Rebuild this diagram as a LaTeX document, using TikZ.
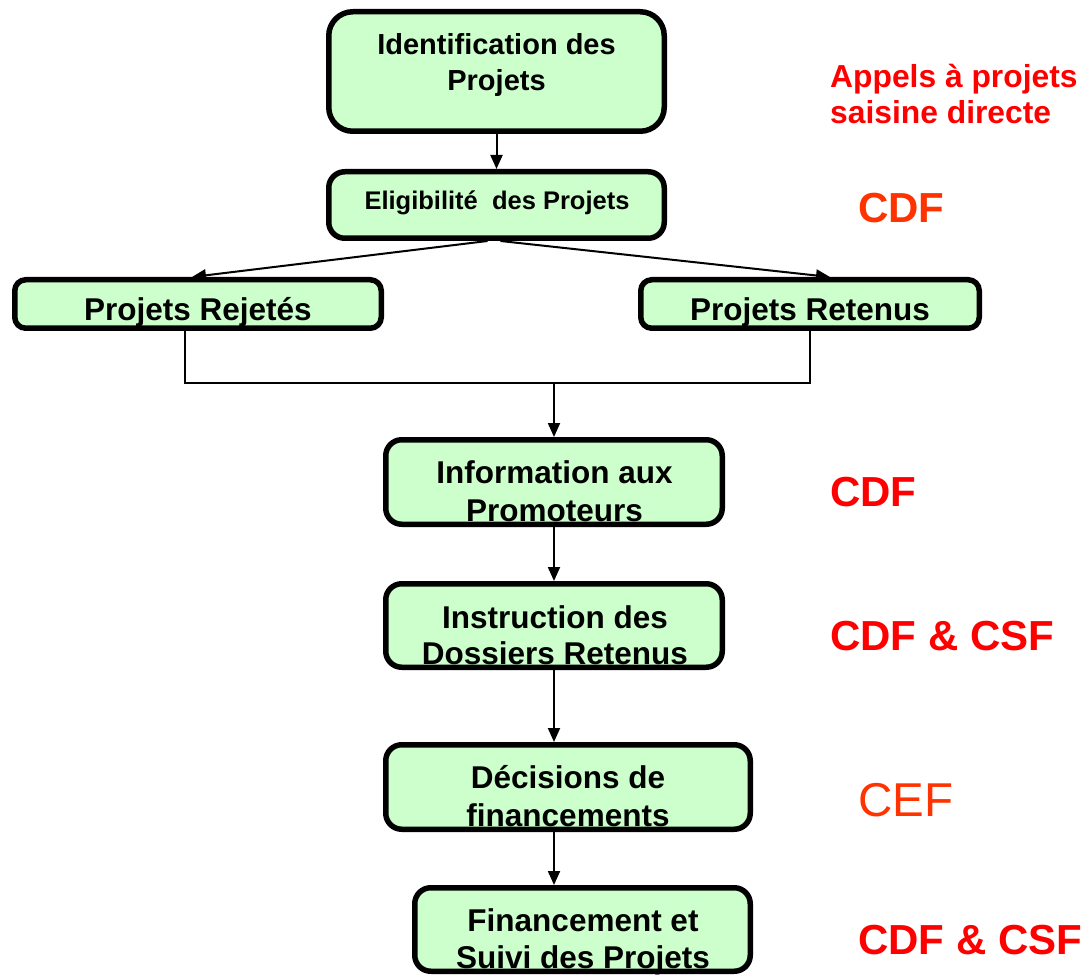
\documentclass[tikz,border=0pt]{standalone}
\usepackage{fontspec}
\setmainfont{Liberation Sans}
\usetikzlibrary{arrows.meta,calc}
\definecolor{boxgreen}{HTML}{CCFFCC}
\definecolor{lblred}{HTML}{FF0000}
\definecolor{lblorange}{HTML}{FF3300}
\tikzset{
  flowbox/.style={draw=black, line width=5.5pt, fill=boxgreen, rounded corners=16pt, inner sep=0pt},
  bigbox/.style={flowbox, rounded corners=24pt},
  boxtext/.style={align=center, inner sep=0pt, font=\bfseries\fontsize{31.5}{37}\selectfont},
  flowarrow/.style={draw=black, line width=2pt, -{Triangle[length=14pt,width=12pt]}},
  joinline/.style={draw=black, line width=1.3pt},
  redlbl/.style={anchor=west, inner sep=0pt, text=lblred, font=\bfseries\fontsize{42}{48}\selectfont},
}
\begin{document}
\begin{tikzpicture}[x=1pt,y=-1pt]
\useasboundingbox (0,0) rectangle (1090,976);
\clip (0,0) rectangle (1090,976);
\fill[white] (0,0) rectangle (1090,976);

% boxes
\node[bigbox, minimum width=335.5pt, minimum height=119.5pt] (ident) at (496.5,71.5) {};
\node[flowbox, minimum width=335.5pt, minimum height=66.5pt] (elig) at (496.5,205) {};
\node[flowbox, minimum width=366.5pt, minimum height=48.5pt, rounded corners=11pt] (rej) at (198,304) {};
\node[flowbox, minimum width=338.5pt, minimum height=48.5pt, rounded corners=11pt] (ret) at (810,304) {};
\node[flowbox, minimum width=336.5pt, minimum height=84.5pt] (info) at (554,482) {};
\node[flowbox, minimum width=336.5pt, minimum height=83.5pt] (instr) at (554,625.5) {};
\node[flowbox, minimum width=364.5pt, minimum height=84.5pt] (dec) at (568,787) {};
\node[flowbox, minimum width=335.5pt, minimum height=83.5pt] (fin) at (582.5,929.5) {};

% box texts
\node[boxtext, font=\bfseries\fontsize{29}{36}\selectfont] (identT) at (496.5,65) {Identification des\\Projets};
\node[boxtext, font=\bfseries\fontsize{25.5}{30}\selectfont] (eligT) at (497,202.5) {Eligibilité\ \ des Projets};
\node[boxtext] (rejT) at (198,312) {Projets Rejetés};
\node[boxtext] (retT) at (810,312) {Projets Retenus};
\node[boxtext, font=\bfseries\fontsize{31.5}{38}\selectfont] (infoT) at (554.5,491.5) {Information aux\\Promoteurs};
\node[boxtext, font=\bfseries\fontsize{31.5}{36}\selectfont] (instrT) at (555,635) {Instruction des\\Dossiers Retenus};
\node[boxtext, font=\bfseries\fontsize{31.5}{38}\selectfont] (decT) at (568,796) {Décisions de\\financements};
\node[boxtext, font=\bfseries\fontsize{31.5}{37}\selectfont] (finT) at (583,942) {Financement et\\Suivi des Projets};

% red labels
\node[anchor=west, inner sep=0pt, align=left, text=lblred, font=\bfseries\fontsize{31.8}{36}\selectfont] (appels) at (830,94) {Appels à projets\\saisine directe};
\node[redlbl, text=lblorange] (cdf1) at (858,208) {CDF};
\node[redlbl] (cdf2) at (830,492) {CDF};
\node[redlbl] (cdfcsf1) at (830,636) {CDF \& CSF};
\node[anchor=west, inner sep=0pt, text=lblorange, font=\fontsize{47.5}{54}\selectfont] (cef) at (858,800) {CEF};
\node[redlbl] (cdfcsf2) at (858,940) {CDF \& CSF};

% connectors
\coordinate (eligL) at ($(elig.south)+(-9,0)$);
\coordinate (eligR) at ($(elig.south)+(4,0)$);
\coordinate (rejIn) at ($(rej.north west)+(180,0)$);
\coordinate (retIn) at ($(ret.north west)+(192,0)$);
\coordinate (rejOut) at ($(rej.south west)+(173,0)$);
\coordinate (retOut) at ($(ret.south west)+(172,0)$);
\coordinate (joinL) at (rejOut |- 0,383);
\coordinate (joinR) at (retOut |- 0,383);
\coordinate (joinM) at (info.north |- 0,383);

\draw[flowarrow] (ident.south) -- (elig.north);
\draw[flowarrow] (eligL) -- (rejIn);
\draw[flowarrow] (eligR) -- (retIn);
\draw[joinline] (rejOut) -- (joinL) -- (joinR) -- (retOut);
\draw[flowarrow] (joinM) -- (info.north);
\draw[flowarrow] (info.south) -- (instr.north);
\draw[flowarrow] (instr.south) -- (instr.south |- dec.north);
\draw[flowarrow] (dec.south -| instr.south) -- (instr.south |- fin.north);
\end{tikzpicture}
\end{document}
